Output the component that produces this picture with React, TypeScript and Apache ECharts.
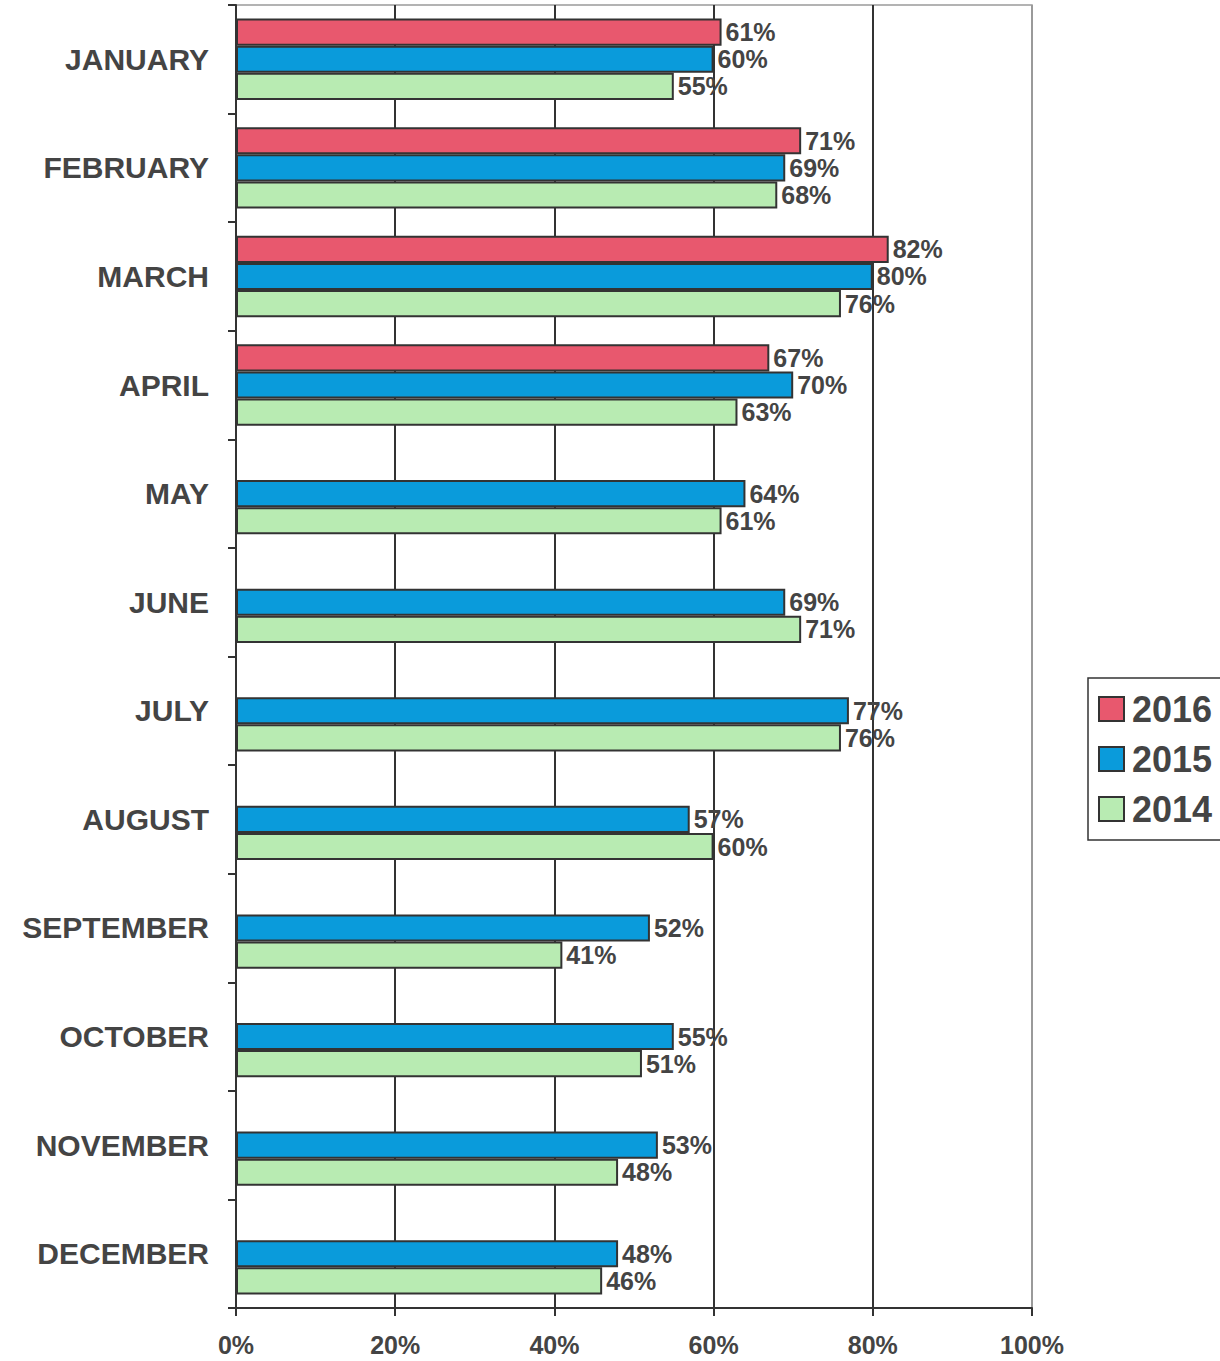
import React, { useEffect, useRef } from "react";
import * as echarts from "echarts";

const months = [
  "JANUARY",
  "FEBRUARY",
  "MARCH",
  "APRIL",
  "MAY",
  "JUNE",
  "JULY",
  "AUGUST",
  "SEPTEMBER",
  "OCTOBER",
  "NOVEMBER",
  "DECEMBER",
];
const values2016: (number | null)[] = [61, 71, 82, 67, null, null, null, null, null, null, null, null];
const values2015: number[] = [60, 69, 80, 70, 64, 69, 77, 57, 52, 55, 53, 48];
const values2014: number[] = [55, 68, 76, 63, 61, 71, 76, 60, 41, 51, 48, 46];
const seriesNames = ["2016", "2015", "2014"];
const seriesColors = ["#E8586E", "#0A9BDB", "#B8EBB2"];

const FONT = "'Liberation Sans', Arial, sans-serif";
const TEXT = "#444444";

export default function App() {
  const ref = useRef<HTMLDivElement>(null);
  useEffect(() => {
    if (!ref.current) return;
    const chart = echarts.init(ref.current, undefined, { renderer: "svg" });
    const datasets = [values2016, values2015, values2014];
    chart.setOption({
      animation: false,
      backgroundColor: "#ffffff",
      textStyle: { fontFamily: FONT },
      grid: {
        left: 236,
        right: 188,
        top: 5,
        bottom: 53,
        show: true,
        borderColor: "#9a9a9a",
        borderWidth: 1.5,
        containLabel: false,
      },
      legend: {
        data: seriesNames,
        orient: "vertical",
        left: 1088,
        top: 678,
        borderColor: "#333",
        borderWidth: 1.5,
        padding: [13, 60, 13, 10],
        itemWidth: 25,
        itemHeight: 24,
        itemGap: 14,
        icon: "rect",
        textStyle: { fontSize: 36, fontWeight: "bold", color: TEXT, fontFamily: FONT, padding: [0, 0, 0, 3] },
      },
      xAxis: {
        type: "value",
        min: 0,
        max: 100,
        interval: 20,
        axisLine: { show: true, lineStyle: { color: "#333", width: 2 } },
        axisTick: { show: true, length: 8, lineStyle: { color: "#333", width: 2 } },
        axisLabel: {
          formatter: "{value}%",
          fontSize: 25,
          fontWeight: "bold",
          color: TEXT,
          fontFamily: FONT,
          margin: 24,
        },
        splitLine: {
          show: true,
          lineStyle: {
            color: ["#333", "#333", "#333", "#333", "#333", "#9a9a9a"],
            width: 2,
          },
        },
      },
      yAxis: {
        type: "category",
        data: months,
        inverse: true,
        axisLine: { show: true, lineStyle: { color: "#333", width: 2 } },
        axisTick: { show: true, length: 8, lineStyle: { color: "#333", width: 2 } },
        axisLabel: {
          fontSize: 30,
          fontWeight: "bold",
          color: TEXT,
          fontFamily: FONT,
          margin: 27,
        },
      },
      series: seriesNames.map((name, i) => ({
        name,
        type: "bar",
        data: datasets[i],
        barGap: "0%",
        barCategoryGap: "25%",
        itemStyle: { color: seriesColors[i], borderColor: "#333", borderWidth: 2 },
        label: {
          show: true,
          position: "right",
          distance: 4,
          formatter: "{c}%",
          fontSize: 25,
          fontWeight: "bold",
          color: TEXT,
          fontFamily: FONT,
        },
      })),
    });
    return () => chart.dispose();
  }, []);
  return (
    <div
      ref={ref}
      style={{ position: "fixed", left: 0, top: 0, width: 1220, height: 1361, background: "#fff" }}
    />
  );
}
